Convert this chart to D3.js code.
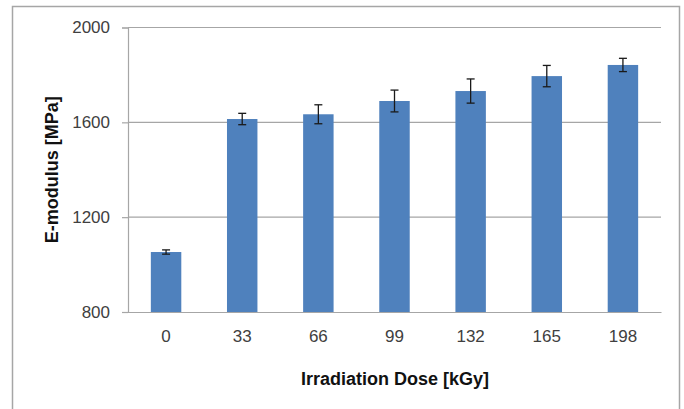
<!DOCTYPE html>
<html>
<head>
<meta charset="utf-8">
<script src="https://cdn.jsdelivr.net/npm/d3@7"></script>
<style>
  body { margin: 0; background: #fff; }
  svg text { font-family: "Liberation Sans", Arial, sans-serif; }
</style>
</head>
<body>
<div id="chart"></div>
<script>
// data
const doses = ["0", "33", "66", "99", "132", "165", "198"];
const modulus = [1053, 1614, 1634, 1690, 1732, 1795, 1842];
const errors = [9, 24, 40, 46, 51, 45, 28];
const yTicks = [800, 1200, 1600, 2000];

const W = 684, H = 409;
const plot = { left: 128, right: 661, top: 27.5, bottom: 312 };

var svg = d3.select('#chart')
  .append('svg')
  .attr('width', W)
  .attr('height', H);

svg.append('rect')
  .attr('width', W).attr('height', H)
  .attr('fill', '#fff');

// outer frame (bottom edge runs off the picture)
svg.append('rect')
  .attr('x', 12.5).attr('y', 6.5)
  .attr('width', 667).attr('height', 420)
  .attr('fill', 'none')
  .attr('stroke', '#a6a6a6')
  .attr('stroke-width', 1.5);

// scales
const x = d3.scaleBand()
  .domain(doses)
  .range([plot.left, plot.right])
  .paddingInner(0.6)
  .paddingOuter(0.3);

const y = d3.scaleLinear()
  .domain([800, 2000])
  .range([plot.bottom, plot.top]);

// gridlines
svg.append('g')
  .selectAll('line')
  .data(yTicks.filter(d => d > 800))
  .enter()
  .append('line')
  .attr('x1', plot.left).attr('x2', plot.right)
  .attr('y1', d => y(d)).attr('y2', d => y(d))
  .attr('stroke', '#a6a6a6')
  .attr('stroke-width', 1.2);

// y axis
const yAxis = svg.append('g')
  .attr('transform', `translate(${plot.left},0)`)
  .call(d3.axisLeft(y).tickValues(yTicks).tickFormat(d3.format('d')).tickSize(6).tickPadding(12));
yAxis.select('.domain').attr('stroke', '#a6a6a6').attr('stroke-width', 1.2);
yAxis.selectAll('.tick line').attr('stroke', '#a6a6a6').attr('stroke-width', 1.2);
yAxis.selectAll('.tick text')
  .style('font-size', '17px')
  .attr('fill', '#404040');

// bars
svg.append('g')
  .selectAll('rect')
  .data(modulus)
  .enter()
  .append('rect')
  .attr('x', (d, i) => x(doses[i]))
  .attr('width', x.bandwidth())
  .attr('y', d => y(d))
  .attr('height', d => y(800) - y(d))
  .attr('fill', '#4f81bd');

// x axis
const xAxis = svg.append('g')
  .attr('transform', `translate(0,${plot.bottom})`)
  .call(d3.axisBottom(x).tickSize(0).tickPadding(18));
xAxis.select('.domain').attr('stroke', '#a6a6a6').attr('stroke-width', 1.2);
xAxis.selectAll('.tick text')
  .style('font-size', '17px')
  .attr('fill', '#404040');

// error bars
const eb = svg.append('g')
  .attr('stroke', '#1a1a1a')
  .attr('stroke-width', 1.3);
modulus.forEach(function(d, i) {
  var cx = x(doses[i]) + x.bandwidth() / 2;
  var lo = y(d - errors[i]), hi = y(d + errors[i]);
  eb.append('line').attr('x1', cx).attr('x2', cx).attr('y1', lo).attr('y2', hi);
  eb.append('line').attr('x1', cx - 4).attr('x2', cx + 4).attr('y1', lo).attr('y2', lo);
  eb.append('line').attr('x1', cx - 4).attr('x2', cx + 4).attr('y1', hi).attr('y2', hi);
});

// axis titles
svg.append('text')
  .attr('transform', `translate(58,${(plot.top + plot.bottom) / 2}) rotate(-90)`)
  .attr('text-anchor', 'middle')
  .style('font-size', '18px')
  .style('font-weight', 'bold')
  .attr('fill', '#111')
  .text('E-modulus [MPa]');

svg.append('text')
  .attr('x', 395)
  .attr('y', 385)
  .attr('text-anchor', 'middle')
  .style('font-size', '18px')
  .style('font-weight', 'bold')
  .attr('fill', '#111')
  .text('Irradiation Dose [kGy]');
</script>
</body>
</html>
